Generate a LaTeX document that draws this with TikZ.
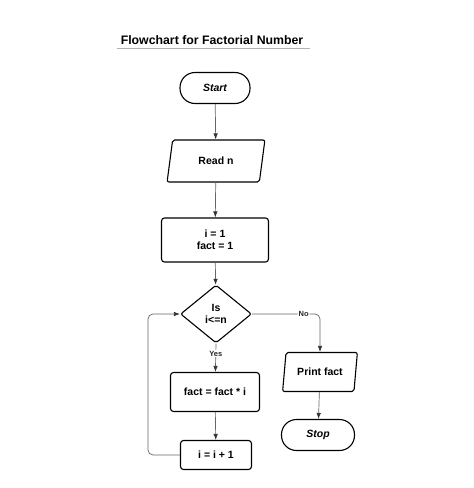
\documentclass[tikz,border=0pt]{standalone}
\usepackage{fontspec}
\setmainfont{Liberation Sans}
\usetikzlibrary{shapes.geometric,arrows.meta}

\begin{document}
\begin{tikzpicture}[x=1pt, y=-1pt,
    box/.style={draw=black, line width=1.1pt, rounded corners=3pt, font=\bfseries\fontsize{10.5}{12}\selectfont, align=center, inner sep=2pt},
    termbox/.style={box, rounded corners=15pt},
    iobox/.style={box, trapezium, trapezium left angle=78, trapezium right angle=102, trapezium stretches=true, rounded corners=2pt},
    testbox/.style={box, diamond, rounded corners=2pt, inner sep=0pt},
    flow/.style={draw=black!60, line width=0.7pt, -{Latex[length=6pt,width=4.5pt,color=black!80]}},
    lbl/.style={fill=white, inner sep=1pt, font=\bfseries\fontsize{7.5}{8}\selectfont, text=black!85}
]
    % Marco
    \useasboundingbox (0,0) rectangle (474,488);

    % Titulo
    \node[font=\bfseries\fontsize{12.3}{14}\selectfont] (title) at (212,40) {Flowchart for Factorial Number};
    \draw[black!30, line width=0.6pt] (117,48.5) -- (310,48.5);

    % Bloques
    \node[termbox, minimum width=70pt, minimum height=31pt, font=\bfseries\itshape\fontsize{10.5}{12}\selectfont] (start) at (215,88) {Start};
    \node[iobox, minimum width=98pt, minimum height=42pt] (read) at (216,161) {Read n};
    \node[box, minimum width=107pt, minimum height=44pt] (init) at (215,240) {i = 1\\fact = 1};
    \node[testbox, minimum width=71pt, minimum height=58pt] (cond) at (216,314) {Is\\i<=n};
    \node[box, minimum width=89pt, minimum height=39pt] (body) at (215,392) {fact = fact * i};
    \node[box, minimum width=71pt, minimum height=29pt] (incr) at (216,455) {i = i + 1};
    \node[iobox, minimum width=75pt, minimum height=39pt] (print) at (320,372) {Print fact};
    \node[termbox, minimum width=73pt, minimum height=31pt, font=\bfseries\itshape\fontsize{10.5}{12}\selectfont] (stop) at (318,435) {Stop};

    % Conectores
    \coordinate (loop) at (148,314);
    \draw[flow] (start) -- (read);
    \draw[flow] (read) -- (init);
    \draw[flow] (init) -- (cond);
    \draw[flow] (cond.south) -- (body) node[lbl, pos=0.35] {Yes};
    \draw[flow, rounded corners=5pt] (cond.east) -| (print.north) node[lbl, pos=0.38] {No};
    \draw[flow] (print) -- (stop);
    \draw[flow] (body) -- (incr);
    \draw[flow, rounded corners=5pt] (incr.west) -| (loop) -- (cond.west);
\end{tikzpicture}
\end{document}
